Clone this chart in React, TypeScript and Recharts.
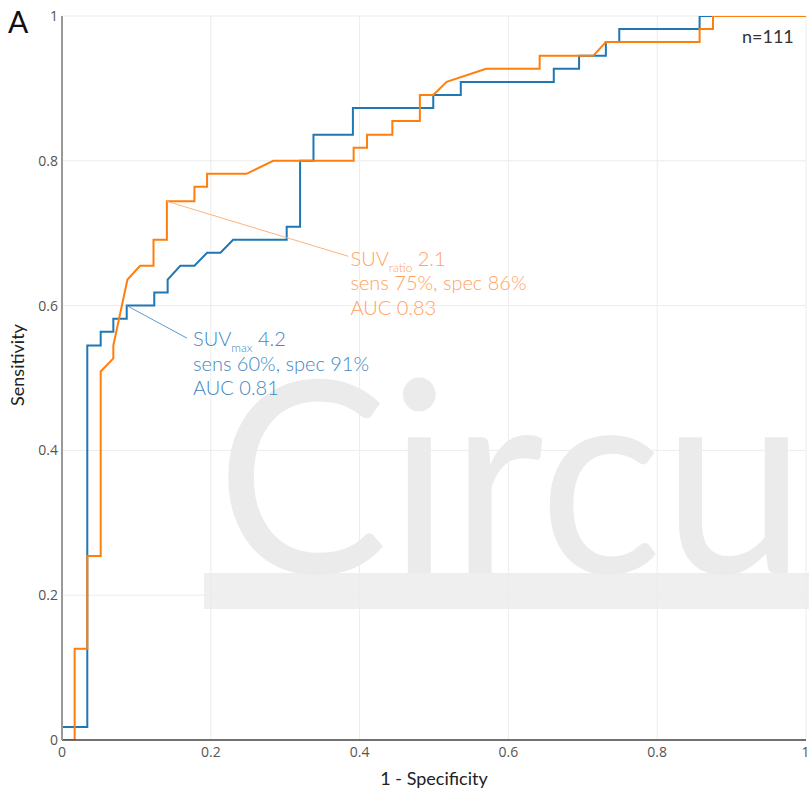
import React from 'react';
import {
  LineChart, Line, XAxis, YAxis, CartesianGrid, ReferenceLine, ReferenceDot,
} from 'recharts';

// SUVmax ROC curve (1 - specificity, sensitivity)
const blueFpr = [0, 0, 0.034, 0.034, 0.052, 0.052, 0.069, 0.069, 0.087, 0.087, 0.124, 0.124, 0.142, 0.142,
  0.159, 0.178, 0.195, 0.213, 0.230, 0.302, 0.302, 0.320, 0.320, 0.338, 0.338, 0.391, 0.391, 0.499, 0.499,
  0.536, 0.536, 0.661, 0.661, 0.695, 0.695, 0.731, 0.731, 0.749, 0.749, 0.857, 0.857, 1];
const blueTpr = [0, 0.018, 0.018, 0.545, 0.545, 0.564, 0.564, 0.582, 0.582, 0.600, 0.600, 0.618, 0.618, 0.636,
  0.655, 0.655, 0.673, 0.673, 0.691, 0.691, 0.709, 0.709, 0.800, 0.800, 0.836, 0.836, 0.873, 0.873, 0.891,
  0.891, 0.909, 0.909, 0.927, 0.927, 0.945, 0.945, 0.964, 0.964, 0.982, 0.982, 1, 1];

// SUVratio ROC curve
const orangeFpr = [0, 0.017, 0.017, 0.034, 0.034, 0.052, 0.052, 0.069, 0.069, 0.088, 0.105, 0.123, 0.123,
  0.141, 0.141, 0.178, 0.178, 0.195, 0.195, 0.248, 0.284, 0.392, 0.392, 0.410, 0.410, 0.444, 0.444, 0.481,
  0.481, 0.499, 0.517, 0.570, 0.642, 0.642, 0.714, 0.731, 0.857, 0.857, 0.875, 0.875, 1];
const orangeTpr = [0, 0, 0.126, 0.126, 0.254, 0.254, 0.509, 0.527, 0.545, 0.636, 0.655, 0.655, 0.691,
  0.691, 0.744, 0.744, 0.764, 0.764, 0.782, 0.782, 0.800, 0.800, 0.818, 0.818, 0.836, 0.836, 0.855, 0.855,
  0.891, 0.891, 0.909, 0.927, 0.927, 0.945, 0.945, 0.964, 0.964, 0.982, 0.982, 1, 1];

const xTicks = [0, 0.2, 0.4, 0.6, 0.8, 1];
const yTicks = [0, 0.2, 0.4, 0.6, 0.8, 1];

// cut-off points and annotation anchors
const blueCut = { x: 0.087, y: 0.600 };
const blueLabelAt = { x: 0.168, y: 0.555 };
const orangeCut = { x: 0.141, y: 0.744 };
const orangeLabelAt = { x: 0.385, y: 0.668 };

const blueLines = ['SUV', 'max', ' 4.2', 'sens 60%, spec 91%', 'AUC 0.81'];
const orangeLines = ['SUV', 'ratio', ' 2.1', 'sens 75%, spec 86%', 'AUC 0.83'];

const blueData = blueFpr.map((x, i) => ({ x, y: blueTpr[i] }));
const orangeData = orangeFpr.map((x, i) => ({ x, y: orangeTpr[i] }));

const FONT = 'Lato, "Open Sans", sans-serif';
const TICKFONT = '"Open Sans", "Noto Sans", sans-serif';

const BLUE = '#1f77b4';
const ORANGE = '#ff7f0e';
const BLUE_TXT = '#3f87c2';
const ORANGE_TXT = '#ffa262';

const makeAnn = (lines: string[], color: string, dx: number, dy: number) => (props: any) => {
  const { cx, cy } = props;
  const x = cx + dx;
  const y = cy + dy;
  return (
    <g fontFamily={FONT} fill={color} fontSize={20} fontWeight={300}>
      <text x={x} y={y}>
        {lines[0]}
        <tspan fontSize={12} dy={6}>{lines[1]}</tspan>
        <tspan dy={-6}>{lines[2]}</tspan>
      </text>
      <text x={x} y={y + 24.5}>{lines[3]}</text>
      <text x={x} y={y + 49}>{lines[4]}</text>
    </g>
  );
};

const XLabel = (props: any) => {
  const { viewBox } = props;
  return (
    <text x={viewBox.x + viewBox.width / 2} y={viewBox.y + 45} textAnchor="middle"
      fontFamily={FONT} fontSize={18} fill="#222">1 - Specificity</text>
  );
};

const YLabel = (props: any) => {
  const { viewBox } = props;
  const cx = 24;
  const cy = viewBox.y + viewBox.height / 2 - 13;
  return (
    <text x={cx} y={cy} transform={`rotate(-90, ${cx}, ${cy})`} textAnchor="middle"
      fontFamily={FONT} fontSize={18} fill="#222">Sensitivity</text>
  );
};

export default function App() {
  return (
    <div style={{ position: 'absolute', left: 0, top: 0, width: 809, height: 795, background: '#fff' }}>
      <svg width={809} height={795} style={{ position: 'absolute', left: 0, top: 0 }}>
        <rect x={204} y={573} width={605} height={36} fill="#efefef" />
        <text x={216} y={573} fontFamily={FONT} fontWeight={400} fontSize={268} fill="#ebebeb"
          textLength={590} lengthAdjust="spacingAndGlyphs">Circu</text>
      </svg>
      <div style={{ position: 'absolute', left: 0, top: 0 }}>
        <LineChart width={809} height={795} margin={{ top: 16, right: 3, bottom: 0, left: 0 }}>
          <CartesianGrid stroke="#ececec" strokeWidth={1} />
          <XAxis type="number" dataKey="x" domain={[0, 1]} ticks={xTicks} height={55}
            tickSize={0} tickMargin={7} axisLine={{ stroke: '#444', strokeWidth: 1.5 }} tickLine={false}
            tick={{ fontFamily: TICKFONT, fontSize: 14, fill: '#555' }} allowDataOverflow
            label={<XLabel />} />
          <YAxis type="number" dataKey="y" domain={[0, 1]} ticks={yTicks} width={62}
            tickSize={0} tickMargin={4} axisLine={{ stroke: '#999', strokeWidth: 2 }} tickLine={false}
            tick={{ fontFamily: TICKFONT, fontSize: 14, fill: '#555' }} allowDataOverflow
            label={<YLabel />} />
          <Line data={blueData} dataKey="y" type="linear" stroke={BLUE} strokeWidth={2}
            dot={false} isAnimationActive={false} />
          <Line data={orangeData} dataKey="y" type="linear" stroke={ORANGE} strokeWidth={2}
            dot={false} isAnimationActive={false} />
          <ReferenceLine segment={[orangeCut, orangeLabelAt]} stroke="#ffb27a" strokeWidth={1} />
          <ReferenceLine segment={[blueCut, blueLabelAt]} stroke="#5b9bd0" strokeWidth={1} />
          <ReferenceDot x={orangeLabelAt.x} y={orangeLabelAt.y} r={0}
            shape={makeAnn(orangeLines, ORANGE_TXT, 2, 9.5)} />
          <ReferenceDot x={blueLabelAt.x} y={blueLabelAt.y} r={0}
            shape={makeAnn(blueLines, BLUE_TXT, 6, 8)} />
        </LineChart>
      </div>
      <svg width={809} height={795} style={{ position: 'absolute', left: 0, top: 0, pointerEvents: 'none' }}>
        <text x={8} y={33} fontFamily={FONT} fontSize={30} fill="#111">A</text>
        <text x={742} y={43} fontFamily={FONT} fontSize={18} fill="#333">n=111</text>
      </svg>
    </div>
  );
}
